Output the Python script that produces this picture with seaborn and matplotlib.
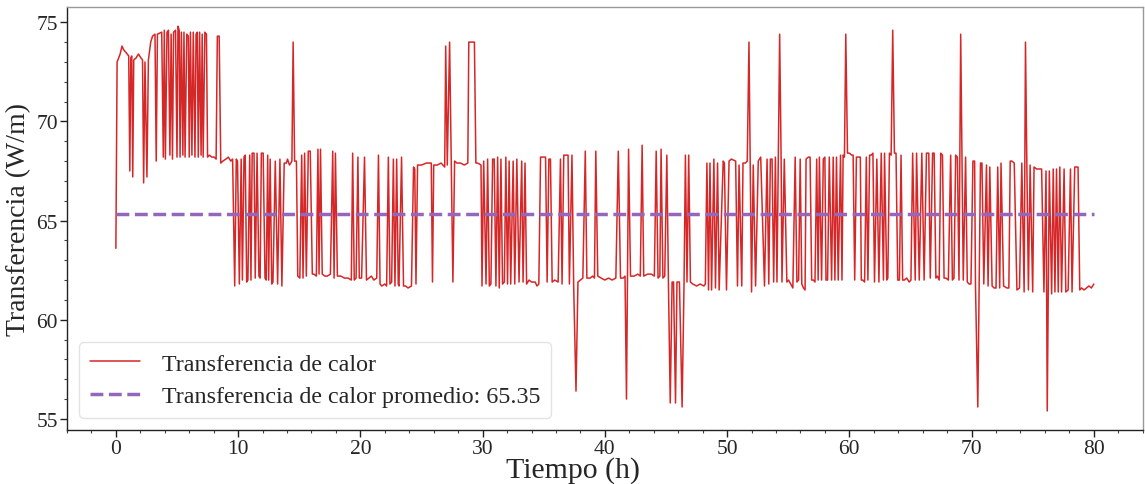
import matplotlib
matplotlib.use("Agg")
import matplotlib.pyplot as plt
from matplotlib.ticker import MultipleLocator
import seaborn as sns
import pandas as pd

# ---- data (time in h, heat transfer in W/m) ----
tiempo_h = [
    0.00, 0.10, 0.35, 0.50, 0.65, 0.80, 1.05, 1.14, 1.22, 1.30, 1.38, 1.46, 1.65, 1.85, 2.05, 2.18, 2.27, 2.38, 2.54, 2.66,
    2.85, 3.00, 3.20, 3.30, 3.40, 3.75, 3.88, 3.96, 4.05, 4.18, 4.30, 4.42, 4.52, 4.63, 4.72, 4.88, 5.00, 5.08, 5.18, 5.25,
    5.36, 5.48, 5.57, 5.66, 5.80, 5.93, 6.00, 6.10, 6.22, 6.33, 6.47, 6.56, 6.66, 6.74, 6.85, 6.97, 7.06, 7.14, 7.28, 7.41,
    7.50, 7.65, 7.85, 8.05, 8.20, 8.30, 8.45, 8.58, 8.75, 9.00, 9.20, 9.40, 9.55,
    9.72, 9.85, 9.95, 10.10, 10.25, 10.35, 10.48, 10.58, 10.70, 10.80, 10.95, 11.05, 11.15, 11.30, 11.40, 11.55, 11.70, 11.80,
    11.90, 12.05, 12.20, 12.30, 12.42, 12.50, 12.62, 12.75, 12.85, 13.04, 13.23, 13.42, 13.58, 13.77, 13.95, 14.04, 14.20,
    14.31, 14.40, 14.50, 14.62, 14.77, 14.88, 15.05, 15.20, 15.31, 15.44, 15.58, 15.74, 15.90, 16.07, 16.20, 16.40, 16.53,
    16.62, 16.74, 16.88, 17.10, 17.30, 17.55, 17.74, 17.85, 17.96, 18.12, 18.40, 18.70, 19.00, 19.26, 19.37, 19.50, 19.65,
    19.80, 19.91, 20.10, 20.34, 20.50, 20.70, 20.90, 21.10, 21.34, 21.48, 21.61, 21.75, 22.00, 22.15, 22.29, 22.42, 22.56,
    22.70, 22.83, 22.97, 23.10, 23.16, 23.37, 23.53, 23.70, 23.90, 24.18, 24.35, 24.45, 24.55, 24.68, 25.00, 25.40, 25.80,
    25.90, 26.00, 26.30, 26.60, 26.90,
    26.98, 27.11, 27.30, 27.44, 27.57, 27.71, 27.90, 28.20, 28.50, 28.79, 28.87, 29.10, 29.33, 29.45, 29.60, 29.87, 29.95,
    30.09, 30.28, 30.41, 30.55, 30.68, 30.82, 30.95, 31.09, 31.23, 31.36, 31.50, 31.63, 31.78, 31.90, 32.04, 32.17, 32.30,
    32.50, 32.63, 32.80, 32.98, 33.20, 33.31, 33.47, 33.60, 33.80, 34.00, 34.30, 34.45, 34.60, 34.74, 34.90, 35.15, 35.28,
    35.42, 35.55, 35.69, 35.90, 36.18, 36.37, 36.50, 36.64, 36.83, 36.99, 37.10, 37.31, 37.45, 37.64, 37.80, 38.00, 38.20,
    38.40, 38.53, 38.80, 39.00, 39.15, 39.26, 39.42, 39.70, 40.00, 40.30, 40.60, 40.90,
    41.10, 41.28, 41.50, 41.65, 41.77, 41.94, 42.10, 42.40, 42.70, 42.90, 43.05, 43.18, 43.50, 43.80, 44.05, 44.20, 44.35,
    44.50, 44.60, 44.75, 44.90, 45.07, 45.20, 45.35, 45.50, 45.62, 45.78, 45.90, 46.10, 46.32, 46.48, 46.59, 46.72, 46.86,
    47.00, 47.20, 47.50, 47.80, 48.10, 48.22, 48.35, 48.48, 48.60, 48.73, 48.92, 49.05, 49.22, 49.35, 49.68, 49.78, 49.95,
    50.16, 50.35, 50.70, 50.85, 50.98, 51.20, 51.30, 51.50, 51.65, 51.79, 52.00, 52.14, 52.33, 52.55, 52.75,
    53.06, 53.27, 53.41, 53.54, 53.68, 53.81, 53.95, 54.08, 54.30, 54.42, 54.49, 54.68, 54.89, 55.03, 55.20, 55.38, 55.57,
    55.71, 55.85, 55.98, 56.11, 56.25, 56.38, 56.46, 56.65, 56.79, 56.92, 57.06, 57.19, 57.33, 57.45, 57.55, 57.73, 57.87,
    58.00, 58.09, 58.22, 58.36, 58.55, 58.68, 58.82, 58.95, 59.09, 59.28, 59.40, 59.49, 59.60, 59.71, 59.85, 60.00, 60.20,
    60.31, 60.44, 60.58, 60.75, 60.90, 60.98, 61.10, 61.25, 61.39, 61.52, 61.66, 61.80, 61.93, 62.06, 62.25, 62.42, 62.61,
    62.79, 62.88, 63.06, 63.15, 63.28, 63.42, 63.55, 63.69, 63.82, 63.96, 64.10, 64.23, 64.36, 64.50, 64.70, 64.90, 65.04,
    65.18, 65.39, 65.50, 65.72, 65.93, 66.12, 66.31,
    66.50, 66.62, 66.81, 66.94, 67.08, 67.20, 67.35, 67.48, 67.62, 67.75, 67.90, 68.10, 68.29, 68.43, 68.56, 68.70, 68.84,
    68.97, 69.11, 69.32, 69.51, 69.65, 69.80, 69.95, 70.11, 70.25, 70.32, 70.51, 70.73, 70.85, 71.00, 71.22, 71.35, 71.49,
    71.68, 71.85, 72.00, 72.14, 72.30, 72.41, 72.62, 72.89, 73.05, 73.16, 73.30, 73.49, 73.71, 73.92, 74.11, 74.30, 74.41,
    74.52, 74.65, 74.79, 75.00, 75.11, 75.33, 75.55, 75.73, 75.92, 76.09, 76.19, 76.36, 76.55, 76.68, 76.82, 76.95, 77.09,
    77.22, 77.36, 77.57, 77.71, 77.90, 78.09, 78.22, 78.44, 78.60, 78.71, 78.85, 79.00, 79.20, 79.40, 79.60, 79.80, 80.00,
]

transferencia_wm = [
    63.6, 73.0, 73.4, 73.8, 73.6, 73.5, 73.3, 67.5, 73.2, 73.3, 67.2, 73.1, 73.2, 73.4, 73.2, 73.1, 66.9, 73.0, 67.2, 73.1,
    74.0, 74.3, 74.4, 68.0, 74.4, 74.5, 68.2, 74.6, 68.1, 74.5, 74.6, 68.3, 74.4, 68.1, 74.5, 74.6, 68.2, 74.8, 74.6, 68.2,
    74.5, 68.3, 74.5, 68.2, 74.4, 74.3, 68.2, 74.5, 68.3, 74.5, 68.2, 74.4, 74.5, 68.2, 74.5, 68.3, 74.4, 68.2, 74.5, 74.4,
    68.2, 68.3, 68.2, 68.2, 68.1, 74.3, 74.3, 67.9, 68.0, 68.1, 68.2, 68.0, 68.1,
    61.7, 68.1, 68.0, 61.8, 68.1, 62.0, 68.2, 68.3, 61.9, 62.0, 68.3, 62.0, 68.4, 68.4, 62.1, 68.4, 62.2, 62.1,
    68.4, 68.4, 62.1, 62.0, 68.3, 62.0, 68.1, 61.8, 61.9, 68.0, 61.8, 68.1, 61.7, 67.9, 67.9, 68.1, 67.8,
    67.9, 68.0, 74.0, 68.0, 68.0, 62.2, 62.1, 68.3, 62.1, 68.4, 62.2, 68.5, 68.5, 62.3, 62.3, 62.2, 68.6,
    62.3, 68.6, 62.3, 62.2, 62.2, 62.3, 68.5, 62.1, 68.4, 62.2, 62.2, 62.1, 62.1, 62.0, 68.4, 62.0, 62.1,
    68.2, 62.1, 62.1, 68.2, 62.0, 62.1, 62.2, 62.0, 62.1, 68.3, 61.8, 61.7, 61.8, 61.7, 68.2, 61.8, 61.9,
    68.1, 61.7, 68.1, 61.8, 61.7, 68.2, 61.7, 61.7, 61.6, 61.7, 67.7, 67.6, 61.8, 67.8, 67.8, 67.9, 67.9,
    61.9, 67.8, 67.8, 67.9, 67.7,
    73.8, 67.8, 74.0, 67.9, 61.9, 68.0, 67.9, 67.9, 67.8, 67.9, 74.0, 74.0, 74.0, 67.9, 67.9, 67.8, 61.7,
    68.0, 61.8, 68.1, 61.7, 61.8, 68.1, 68.1, 61.7, 68.2, 61.6, 68.1, 61.8, 61.9, 68.2, 61.8, 68.0, 61.8,
    68.0, 61.8, 68.1, 61.9, 68.0, 61.9, 67.9, 61.8, 62.0, 61.9, 61.9, 61.7, 61.8, 68.2, 68.2, 68.2, 61.9,
    68.1, 68.1, 61.9, 62.0, 61.9, 68.1, 61.8, 68.3, 68.3, 68.3, 61.8, 68.3, 61.7, 56.4, 61.9, 62.0, 62.1,
    68.5, 62.1, 62.1, 62.2, 62.1, 68.5, 62.2, 62.1, 62.0, 62.1, 62.0, 62.1,
    68.5, 62.1, 62.1, 62.2, 56.0, 68.6, 62.2, 62.2, 62.3, 62.2, 68.8, 62.2, 62.3, 62.3, 62.2, 68.5, 62.1,
    62.2, 68.6, 62.1, 62.2, 68.3, 61.9, 55.8, 61.9, 61.9, 55.8, 61.9, 61.9, 55.6, 61.9, 68.3, 61.9, 68.3,
    61.9, 61.8, 61.7, 61.8, 61.7, 61.8, 67.9, 61.5, 67.9, 61.5, 68.1, 61.6, 67.9, 61.5, 68.0, 67.9, 61.5,
    68.0, 68.1, 68.0, 61.7, 67.8, 61.7, 67.9, 67.9, 68.0, 74.0, 61.4, 67.8, 61.7, 68.0, 68.2,
    61.7, 68.1, 61.8, 68.1, 68.1, 61.9, 68.2, 61.9, 74.4, 68.1, 61.9, 68.1, 61.9, 62.0, 61.8, 61.6, 68.2,
    61.9, 62.0, 68.1, 61.8, 61.6, 61.5, 68.1, 68.2, 68.2, 62.0, 62.0, 61.9, 68.1, 62.0, 68.2, 62.0, 68.1,
    68.2, 62.0, 62.0, 68.2, 62.0, 68.2, 62.0, 68.2, 62.0, 68.3, 62.0, 68.3, 68.2, 74.4, 68.4, 68.4, 68.3,
    68.3, 62.0, 68.2, 68.2, 68.2, 62.0, 62.0, 61.9, 68.2, 62.0, 68.3, 68.3, 68.4, 61.9, 68.1, 61.9, 68.4,
    62.0, 68.4, 62.0, 62.1, 68.4, 68.3, 74.6, 68.4, 68.4, 62.0, 62.0, 68.3, 62.0, 62.0, 62.1, 61.9, 62.0,
    68.4, 62.0, 68.4, 62.0, 68.4, 62.0, 68.4,
    68.4, 62.1, 68.4, 68.4, 62.1, 62.2, 62.0, 68.4, 68.3, 62.1, 62.1, 62.0, 68.3, 62.0, 62.1, 68.3, 68.2,
    62.0, 74.4, 62.0, 68.2, 61.9, 61.8, 61.8, 68.0, 68.0, 61.7, 55.6, 67.9, 67.9, 61.8, 67.8, 61.7, 67.7,
    61.7, 61.6, 61.6, 67.7, 61.6, 67.9, 61.7, 61.6, 61.6, 68.0, 68.0, 67.9, 61.5, 61.6, 67.9, 61.4, 74.0,
    67.9, 61.5, 67.8, 61.4, 67.7, 67.6, 67.6, 67.6, 61.4, 67.5, 55.4, 67.5, 61.3, 67.6, 61.4, 67.6, 61.4,
    67.7, 61.4, 67.6, 61.4, 61.5, 67.6, 61.4, 67.7, 67.7, 67.7, 61.5, 61.6, 61.5, 61.6, 61.7, 61.6, 61.8,
]

promedio = 65.35
etiqueta_serie = "Transferencia de calor"
etiqueta_promedio = "Transferencia de calor promedio: 65.35"
x_label = "Tiempo (h)"
y_label = "Transferencia (W/m)"

df = pd.DataFrame({"t": tiempo_h, "q": transferencia_wm})
df_prom = pd.DataFrame({"t": [tiempo_h[0], tiempo_h[-1]], "q": [promedio, promedio]})

sns.set_theme(style="white")
FONT = "Liberation Serif"
plt.rcParams["font.family"] = "serif"
plt.rcParams["font.serif"] = [FONT, "DejaVu Serif"]
plt.rcParams["mathtext.fontset"] = "stix"

fig, ax = plt.subplots(figsize=(11.45, 4.85), dpi=100)
fig.subplots_adjust(left=0.0585, right=0.998, top=0.9835, bottom=0.111)

sns.lineplot(data=df, x="t", y="q", ax=ax, color="#d62728", linewidth=1.1,
             sort=False, estimator=None, label=etiqueta_serie)
sns.lineplot(data=df_prom, x="t", y="q", ax=ax, color="#9467bd", linewidth=2.5,
             linestyle="--", sort=False, estimator=None, label=etiqueta_promedio)

ax.set_xlabel(x_label, fontsize=21.5, labelpad=-1.5, fontfamily=FONT)
ax.xaxis.label.set_x(0.47)   # label centred on the figure, as in the reference
ax.set_ylabel(y_label, fontsize=20, labelpad=4, fontfamily=FONT)

ax.xaxis.set_major_locator(MultipleLocator(10))
ax.xaxis.set_minor_locator(MultipleLocator(2))
ax.yaxis.set_major_locator(MultipleLocator(5))
ax.yaxis.set_minor_locator(MultipleLocator(1))
ax.tick_params(axis="both", which="major", labelsize=15.5, length=5, width=1, direction="out",
               color="#222222", bottom=True, left=True, pad=1.5)
ax.tick_params(axis="both", which="minor", length=2.5, width=0.8, direction="out",
               color="#444444", bottom=True, left=True)
for lab in ax.get_xticklabels() + ax.get_yticklabels():
    lab.set_fontfamily(FONT)

for side in ["left", "bottom"]:
    ax.spines[side].set_color("#222222")
    ax.spines[side].set_linewidth(1.0)
for side in ["top", "right"]:
    ax.spines[side].set_color("#999999")
    ax.spines[side].set_linewidth(1.0)

leg = ax.legend(loc="lower left", frameon=True, fancybox=True,
                prop={"family": FONT, "size": 17.3},
                handlelength=2.1, handletextpad=0.9, borderpad=0.45, labelspacing=0.45)
leg.get_frame().set_edgecolor("#dddddd")
leg.get_frame().set_linewidth(1.0)

fig.savefig("out.png", dpi=100)
